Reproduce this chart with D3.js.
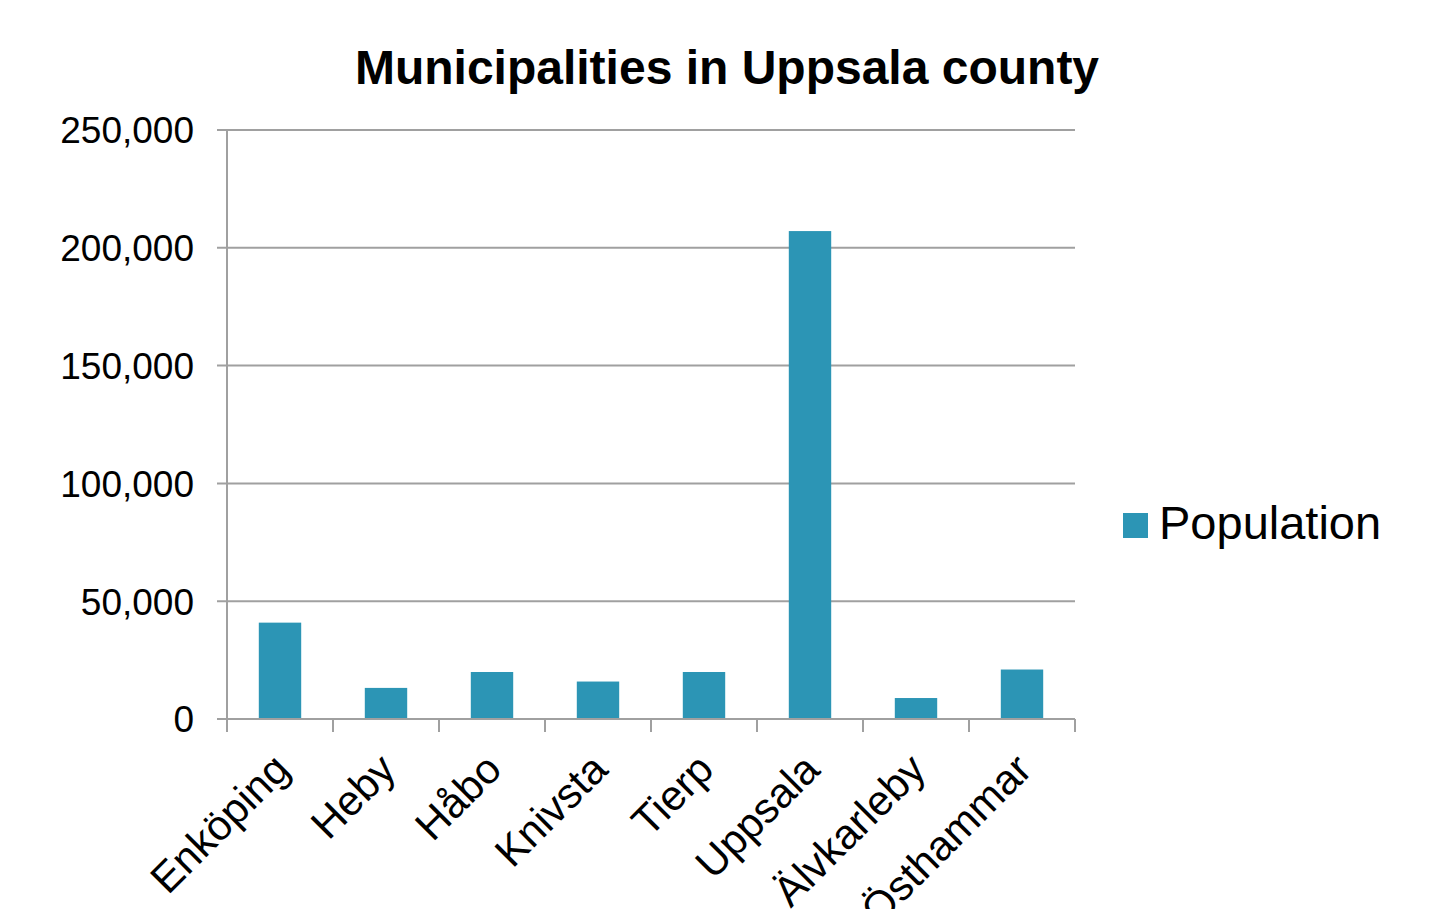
<!DOCTYPE html>
<html>
<head>
<meta charset="utf-8">
<script src="https://cdn.jsdelivr.net/npm/d3@7"></script>
<style>
  body { margin: 0; background: #fff; }
  text { font-family: "Liberation Sans", Arial, sans-serif; fill: #000; }
</style>
</head>
<body>
<div id="chart"></div>
<script>
// Municipality names and population values
const municipalities = ['Enköping', 'Heby', 'Håbo', 'Knivsta', 'Tierp', 'Uppsala', 'Älvkarleby', 'Östhammar'];
const population = [40900, 13200, 19950, 15900, 19950, 207100, 8900, 21000];
const yTicks = [0, 50000, 100000, 150000, 200000, 250000];
const seriesName = 'Population';

const W = 1430, H = 909;
const margin = { top: 130, left: 227, right: 355, bottom: 190 };
const width = W - margin.left - margin.right,
  height = H - margin.top - margin.bottom;

const svg = d3.select('#chart')
  .append('svg')
  .attr('width', W)
  .attr('height', H);

// Title
svg.append('text')
  .attr('x', 727)
  .attr('y', 84)
  .attr('text-anchor', 'middle')
  .style('font-size', '48px')
  .style('font-weight', 'bold')
  .text('Municipalities in Uppsala county');

const g = svg.append('g')
  .attr('transform', `translate(${margin.left},${margin.top})`);

const x = d3.scaleBand()
  .domain(municipalities)
  .range([0, width])
  .paddingInner(0.6)
  .paddingOuter(0.3);

const y = d3.scaleLinear()
  .domain([0, 250000])
  .range([height, 0]);

// Gridlines
g.selectAll('line.grid')
  .data(yTicks)
  .enter()
  .append('line')
  .attr('class', 'grid')
  .attr('x1', -10)
  .attr('x2', width)
  .attr('y1', d => y(d))
  .attr('y2', d => y(d))
  .attr('stroke', '#a0a0a0')
  .attr('stroke-width', 2);

// Y axis line
g.append('line')
  .attr('x1', 0).attr('x2', 0)
  .attr('y1', 0).attr('y2', height)
  .attr('stroke', '#a0a0a0')
  .attr('stroke-width', 2);

// Y labels
g.selectAll('text.ylab')
  .data(yTicks)
  .enter()
  .append('text')
  .attr('class', 'ylab')
  .attr('x', -33)
  .attr('y', d => y(d))
  .attr('dy', '0.36em')
  .attr('text-anchor', 'end')
  .style('font-size', '37px')
  .text(d3.format(','));

// Bars
g.selectAll('rect.bar')
  .data(population)
  .enter()
  .append('rect')
  .attr('class', 'bar')
  .attr('x', (d, i) => x(municipalities[i]))
  .attr('y', d => y(d))
  .attr('width', x.bandwidth())
  .attr('height', d => height - y(d))
  .attr('fill', '#2c95b5');

// Bottom axis line and category boundary ticks
g.append('line')
  .attr('x1', 0).attr('x2', width)
  .attr('y1', height).attr('y2', height)
  .attr('stroke', '#a0a0a0')
  .attr('stroke-width', 2);

const step = x.step();
g.selectAll('line.xtick')
  .data(d3.range(municipalities.length + 1))
  .enter()
  .append('line')
  .attr('class', 'xtick')
  .attr('x1', i => i * step)
  .attr('x2', i => i * step)
  .attr('y1', height)
  .attr('y2', height + 13)
  .attr('stroke', '#a0a0a0')
  .attr('stroke-width', 2);

// X labels, rotated
g.selectAll('text.xlab')
  .data(municipalities)
  .enter()
  .append('text')
  .attr('class', 'xlab')
  .attr('text-anchor', 'end')
  .attr('transform', d => `translate(${x(d) + x.bandwidth() / 2 - 3},${height + 38}) rotate(-45)`)
  .attr('dy', '0.5em')
  .style('font-size', '42px')
  .text(d => d);

// Legend
const legend = svg.append('g')
  .attr('transform', 'translate(1123,513)');
legend.append('rect')
  .attr('width', 25)
  .attr('height', 25)
  .attr('fill', '#2c95b5');
legend.append('text')
  .attr('x', 36)
  .attr('y', 26)
  .style('font-size', '47px')
  .text(seriesName);
</script>
</body>
</html>
